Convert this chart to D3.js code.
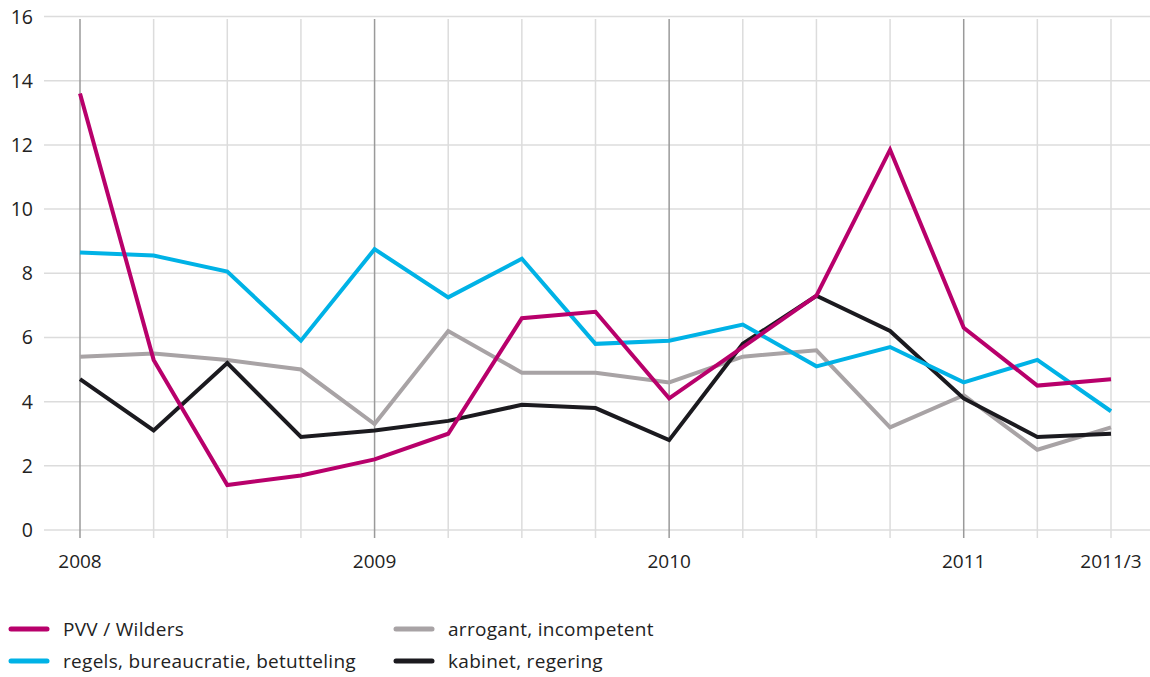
<!DOCTYPE html>
<html>
<head>
<meta charset="utf-8">
<script src="https://cdn.jsdelivr.net/npm/d3@7"></script>
<style>
  body { margin: 0; background: #fff; }
  text { font-family: "Open Sans", sans-serif; fill: #222; }
</style>
</head>
<body>
<div id="chart"></div>
<script>
// quarters 2008/1 .. 2011/3
var quarters = ['2008/1','2008/2','2008/3','2008/4','2009/1','2009/2','2009/3','2009/4',
                '2010/1','2010/2','2010/3','2010/4','2011/1','2011/2','2011/3'];
var xLabels = {'2008/1': '2008', '2009/1': '2009', '2010/1': '2010', '2011/1': '2011', '2011/3': '2011/3'};
var yTicks = [0, 2, 4, 6, 8, 10, 12, 14, 16];

var seriesNames = ['PVV / Wilders', 'regels, bureaucratie, betutteling', 'arrogant, incompetent', 'kabinet, regering'];
var pvv      = [13.6, 5.3, 1.4, 1.7, 2.2, 3.0, 6.6, 6.8, 4.1, 5.7, 7.3, 11.85, 6.3, 4.5, 4.7];
var regels   = [8.65, 8.55, 8.05, 5.9, 8.75, 7.25, 8.45, 5.8, 5.9, 6.4, 5.1, 5.7, 4.6, 5.3, 3.7];
var arrogant = [5.4, 5.5, 5.3, 5.0, 3.3, 6.2, 4.9, 4.9, 4.6, 5.4, 5.6, 3.2, 4.2, 2.5, 3.2];
var kabinet  = [4.7, 3.1, 5.2, 2.9, 3.1, 3.4, 3.9, 3.8, 2.8, 5.8, 7.3, 6.2, 4.1, 2.9, 3.0];
var colors = ['#b8006b', '#00b2e6', '#a8a3a5', '#1b1a1f'];

var width = 1150, height = 677;
var svg = d3.select('#chart').append('svg')
  .attr('width', width)
  .attr('height', height);

var x = d3.scalePoint().domain(quarters).range([80, 1111]);
var y = d3.scaleLinear().domain([0, 16]).range([530, 16.5]);

// horizontal grid
svg.append('g').selectAll('line')
  .data(yTicks).enter().append('line')
  .attr('x1', 44).attr('x2', width)
  .attr('y1', function(d) { return y(d); })
  .attr('y2', function(d) { return y(d); })
  .attr('stroke', '#dcdcdc').attr('stroke-width', 1.5);

// vertical grid, years darker
svg.append('g').selectAll('line')
  .data(quarters).enter().append('line')
  .attr('x1', function(d) { return x(d); })
  .attr('x2', function(d) { return x(d); })
  .attr('y1', 19).attr('y2', 538)
  .attr('stroke', function(d) { return /\/1$/.test(d) ? '#9a9a9a' : '#dcdcdc'; })
  .attr('stroke-width', 1.5);

// y labels
svg.append('g').selectAll('text')
  .data(yTicks).enter().append('text')
  .attr('x', 33)
  .attr('y', function(d) { return y(d) + 7; })
  .attr('text-anchor', 'end')
  .style('font-size', '19.5px')
  .text(function(d) { return d; });

// x labels
svg.append('g').selectAll('text')
  .data(quarters.filter(function(q) { return xLabels[q]; })).enter().append('text')
  .attr('x', function(d) { return x(d); })
  .attr('y', 568)
  .attr('text-anchor', 'middle')
  .style('font-size', '19px')
  .text(function(d) { return xLabels[d]; });

var allSeries = [pvv, regels, arrogant, kabinet];
var drawOrder = [2, 3, 1, 0];

var line = d3.line()
  .x(function(d, i) { return x(quarters[i]); })
  .y(function(d) { return y(d); });

drawOrder.forEach(function(s) {
  svg.append('path')
    .attr('d', line(allSeries[s]))
    .attr('fill', 'none')
    .attr('stroke', colors[s])
    .attr('stroke-width', 4)
    .attr('stroke-linejoin', 'miter');
});

// legend
var legendPos = [[10, 629], [10, 661], [395, 629], [395, 661]];
seriesNames.forEach(function(name, i) {
  var g = svg.append('g').attr('transform', 'translate(' + legendPos[i][0] + ',' + legendPos[i][1] + ')');
  g.append('line')
    .attr('x1', 1).attr('x2', 37)
    .attr('stroke', colors[i]).attr('stroke-width', 5).attr('stroke-linecap', 'round');
  g.append('text')
    .attr('x', 53).attr('y', 7)
    .style('font-size', '19px')
    .style('letter-spacing', '0.3px')
    .text(name);
});
</script>
</body>
</html>
